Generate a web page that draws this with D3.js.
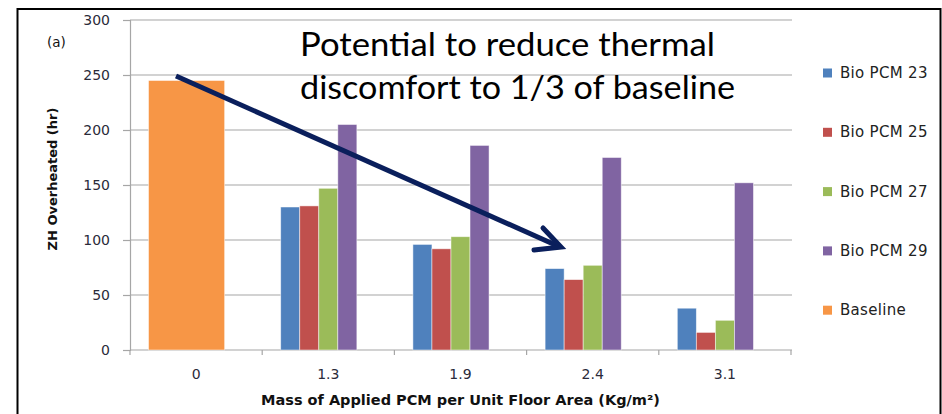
<!DOCTYPE html>
<html><head><meta charset="utf-8">
<script src="https://cdn.jsdelivr.net/npm/d3@7/dist/d3.min.js"></script>
<style>body{margin:0;background:#fff}svg{display:block}</style>
</head><body><svg id="c" width="942" height="414"></svg>
<script>
const categories = ["0", "1.3", "1.9", "2.4", "3.1"];
const seriesNames = ["Bio PCM 23", "Bio PCM 25", "Bio PCM 27", "Bio PCM 29", "Baseline"];
const bioPCM23 = [null, 130, 96, 74, 38];
const bioPCM25 = [null, 131, 92, 64, 16];
const bioPCM27 = [null, 147, 103, 77, 27];
const bioPCM29 = [null, 205, 186, 175, 152];
const baseline = [245, null, null, null, null];
const yTicks = [0, 50, 100, 150, 200, 250, 300];
const colors = ["#4F81BD", "#C0504D", "#9BBB59", "#8064A2", "#F79646"];
const annotation = ["Potential to reduce thermal", "discomfort to 1/3 of baseline"];

(function () {
const svg = d3.select("#c");
const pLeft = 130, pRight = 791, pTop = 20, pBottom = 350;
const y = d3.scaleLinear().domain([0, 300]).range([pBottom, pTop]);
const x0 = d3.scaleBand().domain(categories).range([pLeft, pRight]).paddingInner(0.28).paddingOuter(0.14);
const slots = [0, 1, 2, 3, 4];
const x1 = d3.scaleBand().domain(slots).range([0, x0.bandwidth()]);
const font = "'DejaVu Sans', Verdana, sans-serif";
const tickCol = "#2b2b3a";

// frame
svg.append("rect").attr("x", 17.5).attr("y", 9).attr("width", 923).attr("height", 430)
  .attr("fill", "none").attr("stroke", "#000").attr("stroke-width", 2);

// gridlines
svg.append("g").selectAll("line").data(yTicks.filter(d => d > 0)).join("line")
  .attr("x1", pLeft).attr("x2", pRight + 1).attr("y1", d => y(d)).attr("y2", d => y(d))
  .attr("stroke", "#a6a6a6").attr("stroke-width", 1.2);

// y axis
const yAxis = d3.axisLeft(y).tickValues(yTicks).tickSize(7).tickPadding(12);
const gy = svg.append("g").attr("transform", `translate(${pLeft},0)`).call(yAxis);
gy.select(".domain").attr("stroke", "#a6a6a6").attr("stroke-width", 1.2);
gy.selectAll(".tick line").attr("stroke", "#a6a6a6").attr("stroke-width", 1.2);
gy.selectAll(".tick text").attr("font-family", font).attr("font-size", 14).attr("fill", tickCol).attr("x", -20);

// x axis
const gx = svg.append("g").attr("transform", `translate(0,${pBottom})`);
gx.append("line").attr("x1", pLeft).attr("x2", pRight + 1).attr("y1", 0).attr("y2", 0)
  .attr("stroke", "#a6a6a6").attr("stroke-width", 1.2);
const bounds = d3.range(categories.length + 1).map(i => pLeft + i * (pRight - pLeft) / categories.length);
gx.selectAll("line.t").data(bounds).join("line").attr("class", "t")
  .attr("x1", d => d).attr("x2", d => d).attr("y1", 0).attr("y2", 5)
  .attr("stroke", "#a6a6a6").attr("stroke-width", 1.2);
gx.selectAll("text").data(categories).join("text")
  .attr("x", d => x0(d) + x0.bandwidth() / 2).attr("y", 29)
  .attr("text-anchor", "middle").attr("font-family", font).attr("font-size", 14).attr("fill", tickCol)
  .text(d => d);

// bars
const series = [bioPCM23, bioPCM25, bioPCM27, bioPCM29];
const gb = svg.append("g");
series.forEach((vals, si) => {
  gb.selectAll(null).data(categories.map((c, i) => ({c, v: vals[i]})).filter(d => d.v != null)).join("rect")
    .attr("x", d => x0(d.c) + x1(si)).attr("width", x1.bandwidth())
    .attr("y", d => y(d.v)).attr("height", d => y(0) - y(d.v))
    .attr("fill", colors[si]).attr("stroke", "rgba(255,255,255,0.6)").attr("stroke-width", 0.8);
});
gb.selectAll(null).data(categories.map((c, i) => ({c, v: baseline[i]})).filter(d => d.v != null)).join("rect")
  .attr("x", d => x0(d.c) + x1(0)).attr("width", x1(3) + x1.bandwidth() - x1(0))
  .attr("y", d => y(d.v)).attr("height", d => y(0) - y(d.v))
  .attr("fill", colors[4]).attr("stroke", "rgba(255,255,255,0.6)").attr("stroke-width", 0.8);

// axis titles
svg.append("text").attr("transform", `translate(57,${(pTop + pBottom) / 2 - 6}) rotate(-90)`)
  .attr("text-anchor", "middle").attr("font-family", font).attr("font-weight", "bold")
  .attr("font-size", 13).attr("fill", "#111").text("ZH Overheated (hr)");
svg.append("text").attr("x", (pLeft + pRight) / 2).attr("y", 405)
  .attr("text-anchor", "middle").attr("font-family", font).attr("font-weight", "bold")
  .attr("font-size", 14.5).attr("fill", "#111").text("Mass of Applied PCM per Unit Floor Area (Kg/m²)");

// (a)
svg.append("text").attr("x", 47).attr("y", 47).attr("font-family", font).attr("font-size", 13.5)
  .attr("fill", "#111").text("(a)");

// legend
const lg = svg.append("g");
seriesNames.forEach((n, i) => {
  const cy = 73 + i * 59.3;
  lg.append("rect").attr("x", 823).attr("y", cy - 4.5).attr("width", 9).attr("height", 9).attr("fill", colors[i]);
  lg.append("text").attr("x", 840).attr("y", cy + 5).attr("font-family", font).attr("font-size", 15)
    .attr("letter-spacing", 0.3).attr("fill", "#222").text(n);
});

// annotation
const lineWidths = [415, 435];
svg.append("text").attr("font-family", "Lato, 'Open Sans', sans-serif").attr("font-size", 33).attr("fill", "#000")
  .selectAll("tspan").data(annotation).join("tspan")
  .attr("x", 300).attr("y", (d, i) => 56 + i * 43)
  .attr("textLength", (d, i) => lineWidths[i]).attr("lengthAdjust", "spacingAndGlyphs")
  .text(d => d);

// arrow
const navy = "#0a1f5c";
svg.append("line").attr("x1", 176).attr("y1", 76).attr("x2", 560).attr("y2", 247)
  .attr("stroke", navy).attr("stroke-width", 5);
svg.append("path").attr("d", "M543,228 L561,247 L534,250")
  .attr("fill", "none").attr("stroke", navy).attr("stroke-width", 5).attr("stroke-linecap", "round").attr("stroke-linejoin", "miter");
})();
</script></body></html>
